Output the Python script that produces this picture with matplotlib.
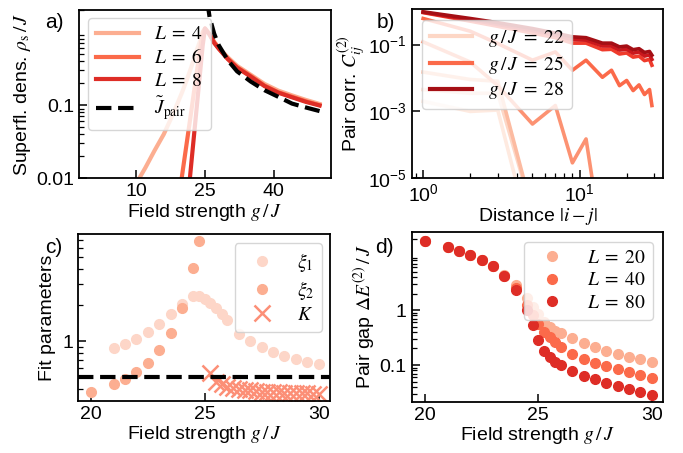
import matplotlib
matplotlib.use("Agg")
import matplotlib.pyplot as plt

plt.rcParams.update({
    "font.family": ["Liberation Sans", "DejaVu Sans"],
    "mathtext.fontset": "stix",
    "font.size": 14,
    "axes.linewidth": 1.3,
    "xtick.direction": "in", "ytick.direction": "in",
    "xtick.major.size": 6, "ytick.major.size": 6,
    "xtick.minor.size": 3.5, "ytick.minor.size": 3.5,
    "xtick.major.width": 1.1, "ytick.major.width": 1.1,
    "xtick.minor.width": 0.9, "ytick.minor.width": 0.9,
    "legend.fontsize": 14,
    "legend.labelspacing": 0.25,
})

# ---------------- panel a data ----------------
g_a = [0, 5, 10, 12, 14, 16, 18, 20, 21, 22, 23, 24, 24.5, 25, 26, 27, 28, 30, 32, 35, 38, 41, 44, 47, 50]
rho_L4 = [0.0005, 0.002, 0.0085, 0.014, 0.024, 0.04, 0.075, 0.15, 0.22, 0.33, 0.52, 0.78, 0.95, 1.1,
          0.94, 0.74, 0.61, 0.45, 0.345, 0.26, 0.195, 0.158, 0.136, 0.118, 0.104]
rho_L6 = [1e-6, 1e-6, 1e-5, 5e-5, 1.6e-4, 5e-4, 0.0014, 0.011, 0.03, 0.082, 0.23, 0.63, 1.0, 1.12,
          0.93, 0.72, 0.6, 0.43, 0.33, 0.25, 0.185, 0.15, 0.13, 0.113, 0.1]
rho_L8 = [1e-7, 1e-7, 1e-6, 3e-6, 1e-5, 3e-5, 1.5e-4, 0.0008, 0.0035, 0.0157, 0.07, 0.31, 0.66, 1.12,
          0.92, 0.71, 0.59, 0.425, 0.325, 0.245, 0.182, 0.148, 0.128, 0.111, 0.099]
g_pair = [25.5, 26, 27, 28, 30, 32, 35, 38, 41, 44, 47, 50]
J_pair = [2.6, 1.6, 0.95, 0.66, 0.41, 0.29, 0.21, 0.16, 0.13, 0.105, 0.093, 0.083]
L_a = [4, 6, 8]
col_a = ["#fcae91", "#fb6a4a", "#de2d26"]

# ---------------- panel b data ----------------
dist = [1, 2, 3, 5, 7, 9, 11, 14, 16, 18, 20, 22, 24, 26, 28, 29]
g_b = [21, 22, 23, 24, 25, 26, 27, 28]
col_b = ["#feeae0", "#fdd7c6", "#fcbba1", "#fc9272", "#fb6a4a", "#ef3b2c", "#cb181d", "#a50f15"]
C21 = [0.0020, 0.0010, 0.0011] + [1e-7] * 13
C22 = [0.0045, 0.0035, 0.0035, 1e-6] + [1e-7] * 12
C23 = [0.015, 0.009, 0.008, 1e-6] + [1e-7] * 12
C24 = [0.12, 0.03, 0.0059, 4.2e-4, 1.5e-3, 2.9e-5, 1.5e-4] + [1e-7] * 9
C25 = [0.6, 0.25, 0.107, 0.034, 0.06, 0.017, 0.034, 0.0105, 0.017, 0.0059, 0.0084, 0.0042, 0.0062, 0.0032, 0.0045, 0.0015]
C26 = [0.9, 0.5, 0.35, 0.22, 0.16, 0.11, 0.11, 0.07, 0.072, 0.052, 0.056, 0.042, 0.045, 0.033, 0.036, 0.024]
C27 = [0.92, 0.55, 0.4, 0.26, 0.19, 0.14, 0.135, 0.09, 0.09, 0.068, 0.072, 0.055, 0.06, 0.045, 0.049, 0.036]
C28 = [0.95, 0.6, 0.45, 0.3, 0.22, 0.17, 0.16, 0.11, 0.11, 0.085, 0.09, 0.07, 0.075, 0.058, 0.062, 0.048]
C_all = [C21, C22, C23, C24, C25, C26, C27, C28]
g_b_legend = [22, 25, 28]

# ---------------- panel c data ----------------
g_xi1 = [21, 21.5, 22, 22.5, 23, 23.5, 24, 24.5, 24.75, 25, 25.25, 25.5, 25.75, 26, 26.5, 27, 27.5, 28, 28.5, 29, 29.5, 30]
xi1 = [0.874, 0.95, 1.046, 1.204, 1.39, 1.68, 2.05, 2.36, 2.36, 2.25, 2.07, 1.88, 1.68, 1.49, 1.14, 1.006, 0.90, 0.82, 0.755, 0.708, 0.677, 0.643]
g_xi2 = [20, 21, 21.5, 22, 22.5, 23, 23.5, 24, 24.5, 24.75]
xi2 = [0.381, 0.438, 0.486, 0.559, 0.656, 0.847, 1.166, 1.88, 4.06, 6.86]
g_K = [25.25, 25.5, 25.75, 26, 26.25, 26.5, 26.75, 27, 27.25, 27.5, 27.75, 28, 28.25, 28.5, 28.75, 29, 29.25, 29.5, 29.75, 30]
K = [0.54, 0.46, 0.44, 0.42, 0.41, 0.40, 0.395, 0.39, 0.385, 0.38, 0.38, 0.378, 0.375, 0.373, 0.372, 0.37, 0.37, 0.368, 0.367, 0.365]
K_crit = 0.5

# ---------------- panel d data ----------------
g_d = [20, 21, 21.5, 22, 22.5, 23, 23.5, 24, 24.5, 24.75, 25, 25.25, 25.5, 25.75, 26, 26.5, 27, 27.5, 28, 28.5, 29, 29.5, 30]
gap_L20 = [18.2, 14.2, 12.0, 10.0, 8.11, 6.31, 4.3, 2.85, 1.63, 1.15, 0.834, 0.614, 0.497, 0.415, 0.377, 0.305, 0.248, 0.216, 0.18, 0.156, 0.142, 0.127, 0.115]
gap_L40 = [18.2, 14.2, 12.0, 10.0, 8.11, 6.31, 4.25, 2.5, 1.23, 0.81, 0.55, 0.40, 0.32, 0.26, 0.21, 0.16, 0.13, 0.11, 0.095, 0.083, 0.074, 0.066, 0.059]
gap_L80 = [18.2, 14.2, 12.0, 10.0, 8.11, 6.31, 4.21, 2.31, 1.0, 0.533, 0.285, 0.18, 0.14, 0.115, 0.1, 0.079, 0.063, 0.055, 0.047, 0.041, 0.036, 0.032, 0.029]
L_d = [20, 40, 80]
col_d = ["#fcae91", "#fb6a4a", "#de2d26"]

W, H = 683, 453
fig = plt.figure(figsize=(W / 100, H / 100), dpi=100)

def box(l, t, r, b):
    return [l / W, 1 - b / H, (r - l) / W, (b - t) / H]

axa = fig.add_axes(box(79, 10, 331, 178.3))
axb = fig.add_axes(box(411.7, 9.3, 663.3, 178.3))
axc = fig.add_axes(box(78.3, 234, 330, 400.7))
axd = fig.add_axes(box(411.7, 232.3, 662.7, 401.7))

# ---- a ----
for L, r, c in zip(L_a, [rho_L4, rho_L6, rho_L8], col_a):
    axa.plot(g_a, r, color=c, lw=3, label=rf"$L\;=\;{L}$")
axa.plot(g_pair, J_pair, "k--", lw=3, label=r"$\tilde{J}_\mathrm{pair}$")
axa.set_yscale("log")
axa.set_xlim(-2.5, 52.5)
axa.set_ylim(0.01, 2.0)
axa.set_xticks([10, 25, 40])
axa.set_yticks([0.01, 0.1])
axa.set_yticklabels(["0.01", "0.1"])
axa.set_xlabel(r"Field strength $g\,/\,J$", labelpad=1)
axa.set_ylabel(r"Superfl. dens. $\rho_\mathrm{s}\,/\,J$", labelpad=2)
axa.legend(loc="upper left", bbox_to_anchor=(0.036, 0.952), borderaxespad=0, handlelength=2.2)

# ---- b ----
for g, C, c in zip(g_b, C_all, col_b):
    lab = rf"$g\,/\,J\;=\;{g}$" if g in g_b_legend else None
    axb.plot(dist, C, color=c, lw=2.6, label=lab)
axb.set_xscale("log")
axb.set_yscale("log")
axb.set_xlim(0.845, 34.3)
axb.set_ylim(1e-5, 1.13)
axb.set_yticks([1e-5, 1e-3, 1e-1])
axb.yaxis.set_minor_locator(matplotlib.ticker.NullLocator())
axb.set_xlabel(r"Distance $|i-j|$", labelpad=1)
axb.set_ylabel(r"Pair corr. $C_{ij}^{(2)}$", labelpad=0)
leg_b = axb.legend(loc="upper left", bbox_to_anchor=(0.04, 0.937), borderaxespad=0, handlelength=2.2)
for h in leg_b.get_lines():
    h.set_linewidth(3)

# ---- c ----
axc.plot(g_xi1, xi1, "o", color="#fdd6c8", ms=7, label=r"$\xi_1$")
axc.plot(g_xi2, xi2, "o", color="#fcae91", ms=7, label=r"$\xi_2$")
axc.plot(g_K, K, "x", color="#fc8f77", ms=11, mew=1.8, label=r"$K$")
axc.axhline(K_crit, color="k", ls="--", lw=3)
axc.set_yscale("log")
axc.set_xlim(19.45, 30.5)
axc.set_ylim(0.32, 7.8)
axc.set_xticks([20, 25, 30])
axc.set_yticks([1])
axc.set_yticklabels(["1"])
axc.set_xlabel(r"Field strength $g\,/\,J$", labelpad=1)
axc.set_ylabel("Fit parameters", labelpad=5)
axc.legend(loc="upper right", bbox_to_anchor=(0.968, 0.946), borderaxespad=0)

# ---- d ----
for L, gap, c in zip(L_d, [gap_L20, gap_L40, gap_L80], col_d):
    axd.plot(g_d, gap, "o", color=c, ms=7, label=rf"$L\;=\;{L}$")
axd.set_yscale("log")
axd.set_xlim(19.41, 30.49)
axd.set_ylim(0.0215, 26)
axd.set_xticks([20, 25, 30])
axd.set_yticks([0.1, 1])
axd.set_yticklabels(["0.1", "1"])
axd.set_xlabel(r"Field strength $g\,/\,J$", labelpad=1)
axd.set_ylabel(r"Pair gap $\Delta E^{(2)}\,/\,J$", labelpad=2)
axd.legend(loc="upper right", bbox_to_anchor=(0.9625, 0.945), borderaxespad=0)

for lab, x, y in [("a)", 45, 13), ("b)", 377, 13), ("c)", 45, 238), ("d)", 375, 238)]:
    fig.text(x / W, 1 - y / H, lab, ha="left", va="top", fontsize=15)

fig.savefig("out.png", dpi=100)
